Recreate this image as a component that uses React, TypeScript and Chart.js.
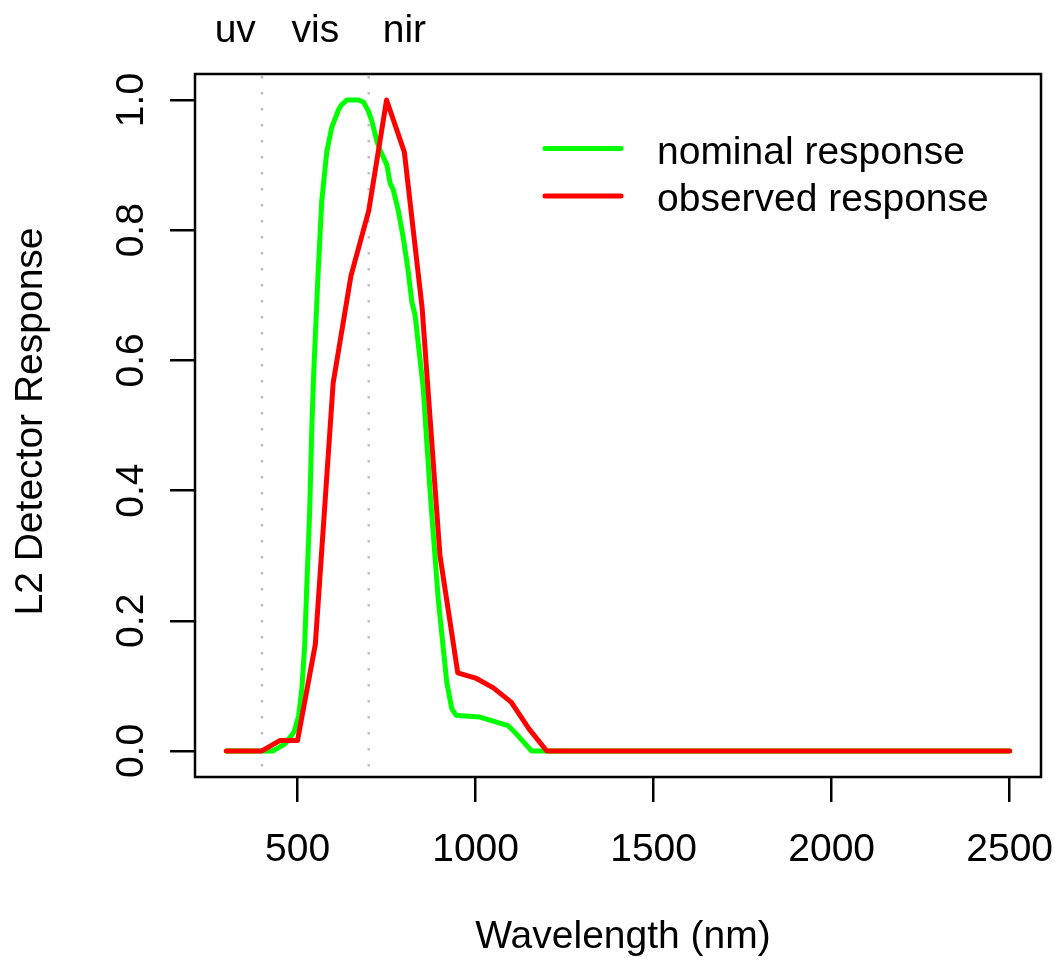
import React, { useEffect, useRef } from 'react';
import { Chart, registerables } from 'chart.js';

Chart.register(...registerables);

// ---- data ----
const nominalWavelength = [
  300, 350, 400, 430, 465, 490, 503, 512, 520, 526, 534, 540, 545, 557, 568, 582, 596, 601, 615, 624,
  638, 652, 671, 685, 699, 709, 723, 732, 751, 760, 769, 783, 797, 810, 821, 830, 853, 872, 895, 919,
  933, 945, 960, 1012, 1054, 1091, 1115, 1157, 1200, 2500,
];
const nominalResponse = [
  0, 0, 0, 0, 0.011, 0.029, 0.054, 0.095, 0.162, 0.254, 0.367, 0.495, 0.575, 0.726, 0.845, 0.92, 0.958, 0.965, 0.985, 0.993,
  1.0, 1.0, 1.0, 0.997, 0.983, 0.967, 0.936, 0.923, 0.9, 0.872, 0.862, 0.83, 0.788, 0.74, 0.69, 0.67, 0.557, 0.4, 0.234, 0.106,
  0.065, 0.055, 0.054, 0.052, 0.045, 0.039, 0.026, 0, 0, 0,
];

const observedWavelength = [
  300, 350, 400, 450, 500, 550, 600, 650, 700, 750, 800, 850, 900, 950, 1000, 1050, 1100, 1150, 1200, 2500,
];
const observedResponse = [
  0, 0, 0, 0.016, 0.016, 0.164, 0.565, 0.73, 0.83, 1.0, 0.92, 0.68, 0.3, 0.12, 0.112, 0.097, 0.075, 0.034, 0, 0,
];

const xTickValues = [500, 1000, 1500, 2000, 2500];
const yTickValues = [0, 0.2, 0.4, 0.6, 0.8, 1.0];
const yTickLabels = ['0.0', '0.2', '0.4', '0.6', '0.8', '1.0'];

const bandEdges = [400, 700];
const bandLabels = ['uv', 'vis', 'nir'];
const bandLabelPositions = [325, 550, 800];

const seriesNames = ['nominal response', 'observed response'];
const seriesColors = ['#00FF00', '#FF0000'];

const xTitle = 'Wavelength (nm)';
const yTitle = 'L2 Detector Response';

const FONT = '"Liberation Sans", Arial, Helvetica, sans-serif';
const FONT_SIZE = 39;
const LINE_W = 5;

const decorPlugin = {
  id: 'rDecor',
  beforeDatasetsDraw(chart: any) {
    const { ctx, chartArea, scales } = chart;
    ctx.save();
    ctx.strokeStyle = '#BEBEBE';
    ctx.lineWidth = 2.5;
    ctx.setLineDash([2.5, 13.5]);
    ctx.lineCap = 'butt';
    for (const e of bandEdges) {
      const px = scales.x.getPixelForValue(e);
      ctx.beginPath();
      ctx.moveTo(px, chartArea.top + 2);
      ctx.lineTo(px, chartArea.bottom);
      ctx.stroke();
    }
    ctx.restore();
  },
  afterDraw(chart: any) {
    const { ctx, chartArea, scales } = chart;
    ctx.save();
    // box
    ctx.strokeStyle = '#000';
    ctx.lineWidth = 2.5;
    ctx.setLineDash([]);
    ctx.strokeRect(chartArea.left, chartArea.top, chartArea.right - chartArea.left, chartArea.bottom - chartArea.top);

    ctx.fillStyle = '#000';
    ctx.font = `${FONT_SIZE}px ${FONT}`;

    // y tick labels (rotated, R style)
    yTickValues.forEach((v, i) => {
      const py = scales.y.getPixelForValue(v);
      ctx.save();
      ctx.translate(chartArea.left - 52, py);
      ctx.rotate(-Math.PI / 2);
      ctx.textAlign = 'center';
      ctx.textBaseline = 'alphabetic';
      ctx.fillText(yTickLabels[i], 0, 0);
      ctx.restore();
    });

    // y title
    ctx.save();
    ctx.translate(chartArea.left - 153, (chartArea.top + chartArea.bottom) / 2 - 4);
    ctx.rotate(-Math.PI / 2);
    ctx.textAlign = 'center';
    ctx.textBaseline = 'alphabetic';
    ctx.fillText(yTitle, 0, 0);
    ctx.restore();

    // x title
    ctx.textAlign = 'center';
    ctx.textBaseline = 'alphabetic';
    ctx.fillText(xTitle, (chartArea.left + chartArea.right) / 2 + 5, chartArea.bottom + 171);

    // band labels
    bandLabels.forEach((t, i) => {
      ctx.fillText(t, scales.x.getPixelForValue(bandLabelPositions[i]), chartArea.top - 32);
    });

    // legend
    const lx0 = chartArea.right - 496;
    const lx1 = lx0 + 76;
    const tx = lx0 + 112;
    const rows = [chartArea.top + 74.5, chartArea.top + 122];
    seriesNames.forEach((name, i) => {
      ctx.strokeStyle = seriesColors[i];
      ctx.lineWidth = LINE_W;
      ctx.lineCap = 'round';
      ctx.beginPath();
      ctx.moveTo(lx0, rows[i]);
      ctx.lineTo(lx1, rows[i]);
      ctx.stroke();
      ctx.fillStyle = '#000';
      ctx.textAlign = 'left';
      ctx.textBaseline = 'alphabetic';
      ctx.fillText(name, tx, rows[i] + 15);
    });
    ctx.restore();
  },
};

export default function App() {
  const ref = useRef<HTMLCanvasElement>(null);
  useEffect(() => {
    const nominalData = nominalWavelength.map((x, i) => ({ x, y: nominalResponse[i] }));
    const observedData = observedWavelength.map((x, i) => ({ x, y: observedResponse[i] }));
    const chart = new Chart(ref.current as HTMLCanvasElement, {
      type: 'line',
      data: {
        datasets: [
          {
            label: seriesNames[0],
            data: nominalData,
            borderColor: seriesColors[0],
            borderWidth: LINE_W,
            pointRadius: 0,
            tension: 0,
            fill: false,
            borderCapStyle: 'round',
            borderJoinStyle: 'round',
            order: 1,
          },
          {
            label: seriesNames[1],
            data: observedData,
            borderColor: seriesColors[1],
            borderWidth: LINE_W,
            pointRadius: 0,
            tension: 0,
            fill: false,
            borderCapStyle: 'round',
            borderJoinStyle: 'round',
            order: 0,
          },
        ],
      },
      options: {
        responsive: false,
        animation: false,
        devicePixelRatio: 1,
        layout: { padding: { left: 0, top: 74, right: 14, bottom: 0 } },
        plugins: {
          legend: { display: false },
          tooltip: { enabled: false },
        },
        scales: {
          x: {
            type: 'linear',
            min: 212,
            max: 2588,
            afterBuildTicks: (s: any) => {
              s.ticks = xTickValues.map((v) => ({ value: v }));
            },
            afterFit: (s: any) => {
              s.height = 188;
              s.paddingLeft = 0;
              s.paddingRight = 0;
            },
            border: { display: false },
            grid: {
              display: true,
              drawOnChartArea: false,
              drawTicks: true,
              tickLength: 25,
              tickColor: '#000',
              tickWidth: 2.5,
              color: '#000',
              lineWidth: 2.5,
            },
            ticks: {
              autoSkip: false,
              maxRotation: 0,
              minRotation: 0,
              padding: 25,
              color: '#000',
              font: { family: FONT, size: FONT_SIZE },
              callback: (v: any) => String(v),
            },
          },
          y: {
            type: 'linear',
            min: -0.04,
            max: 1.04,
            afterBuildTicks: (s: any) => {
              s.ticks = yTickValues.map((v) => ({ value: v }));
            },
            afterFit: (s: any) => {
              s.width = 195;
              s.paddingTop = 0;
              s.paddingBottom = 0;
            },
            border: { display: false },
            grid: {
              display: true,
              drawOnChartArea: false,
              drawTicks: true,
              tickLength: 25,
              tickColor: '#000',
              tickWidth: 2.5,
              color: '#000',
              lineWidth: 2.5,
            },
            ticks: { display: false },
          },
        },
      },
      plugins: [decorPlugin],
    } as any);
    return () => chart.destroy();
  }, []);
  return (
    <div style={{ position: 'fixed', left: 0, top: 0, width: 1055, height: 965, background: '#fff' }}>
      <canvas ref={ref} width={1055} height={965} style={{ display: 'block', width: 1055, height: 965 }} />
    </div>
  );
}
